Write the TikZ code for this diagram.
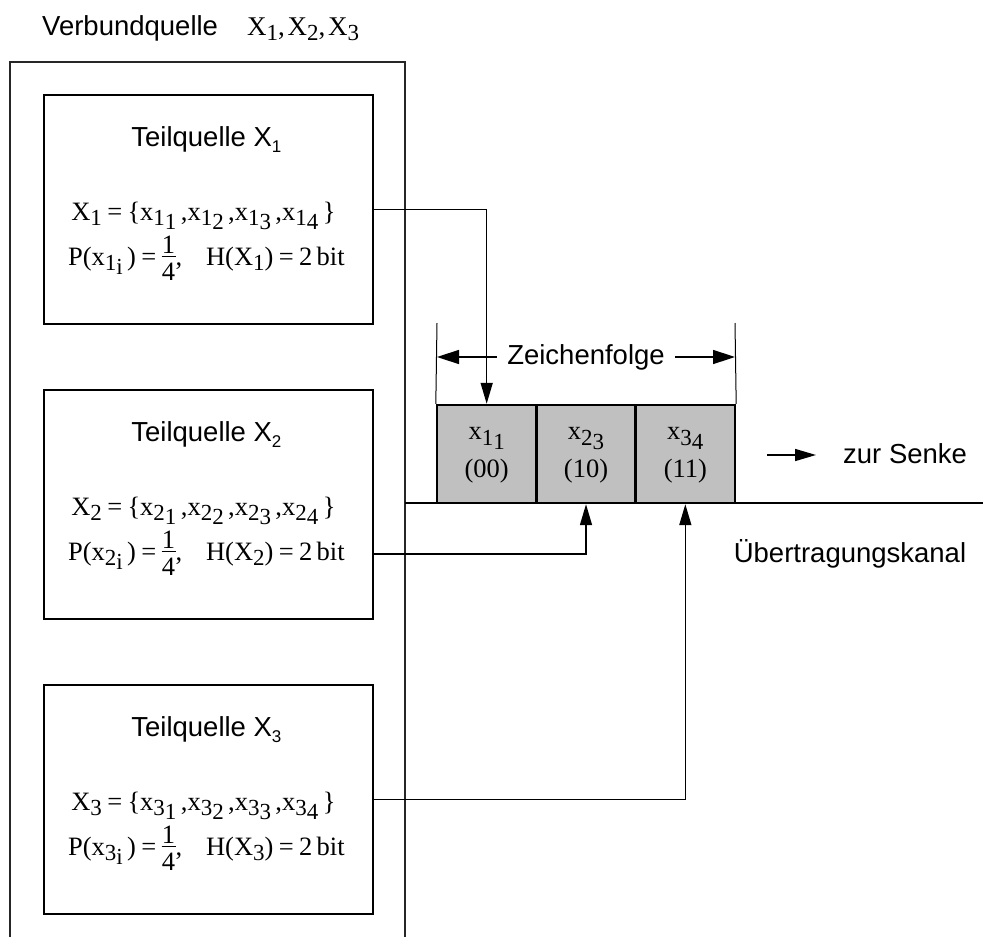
\documentclass[tikz,border=0pt]{standalone}
\usepackage{fontspec}
\setmainfont{Liberation Serif}
\setsansfont{Liberation Sans}
\usetikzlibrary{arrows.meta,calc}

% lowered serif index (nestable), sans index, spaced equals, one quarter
\newcommand\lo[1]{\raisebox{-0.2em}{\fontsize{23}{23}\selectfont #1}}
\newcommand\ssub[1]{\raisebox{-6pt}{\fontsize{17}{17}\selectfont #1}}
\newcommand\eq{\hspace{0.2em}=\hspace{0.2em}}
\newcommand\qrt{\raisebox{-15pt}{\vbox{\offinterlineskip
  \halign{\hfil##\hfil\cr 1\cr\noalign{\kern2pt}\rule{14pt}{1.3pt}\cr
  \noalign{\kern5.5pt}4\cr}}}}

\definecolor{cellgray}{RGB}{192,192,192}

\tikzset{
  box/.style={draw, line width=1.8pt, minimum width=329pt, minimum height=229pt,
              anchor=north west, inner sep=0pt},
  cell/.style={draw, line width=2.4pt, fill=cellgray, minimum width=99.33pt,
               minimum height=98pt, inner sep=0pt},
  conn/.style={line width=1.5pt},
  arr/.style={line width=1.5pt, -{Triangle[length=21pt,width=12pt]}},
  dimarr/.style={line width=1.5pt, -{Triangle[length=22pt,width=14pt]}},
  thinline/.style={line width=1pt},
  outer/.style={line width=1.2pt, draw=black!85},
  sans/.style={font=\sffamily\fontsize{27.5}{30}\selectfont, inner sep=0pt},
  serif/.style={font=\fontsize{26.5}{30}\selectfont, inner sep=0pt, anchor=base},
}

\begin{document}
\begin{tikzpicture}[x=1pt, y=-1pt]
\useasboundingbox (0,0) rectangle (983,937);

% compound source frame (open towards the bottom)
\draw[outer] (10,940) -- (10,62) -- (405,62) -- (405,940);
\node[sans, anchor=base west] (vqt) at (42,35) {Verbundquelle};
\node[serif, anchor=base west, font=\fontsize{27}{30}\selectfont] (vqx) at (247,35)
  {X\lo{1},\hspace{0.1em}X\lo{2},\hspace{0.1em}X\lo{3}};

% partial sources
\node[box] (t1) at (43,94) {};
\node[box] (t2) at (43,389) {};
\node[box] (t3) at (43,684) {};

\node[sans, anchor=base] (t1h) at ($(t1.north)+(-2,52)$) {Teilquelle X\ssub{1}};
\node[serif] (t1a) at ($(t1.north)+(-5,126)$)
  {X\lo{1}\eq\{x\lo{1\lo{1}}\,,x\lo{1\lo{2}}\,,x\lo{1\lo{3}}\,,x\lo{1\lo{4}}\,\}};
\node[serif] (t1b) at ($(t1.north)+(-2,171)$)
  {P(x\lo{1\lo{i}}\,)\eq\qrt,\hspace{0.9em}H(X\lo{1})\eq 2\,bit};

\node[sans, anchor=base] (t2h) at ($(t2.north)+(-2,52)$) {Teilquelle X\ssub{2}};
\node[serif] (t2a) at ($(t2.north)+(-5,126)$)
  {X\lo{2}\eq\{x\lo{2\lo{1}}\,,x\lo{2\lo{2}}\,,x\lo{2\lo{3}}\,,x\lo{2\lo{4}}\,\}};
\node[serif] (t2b) at ($(t2.north)+(-2,171)$)
  {P(x\lo{2\lo{i}}\,)\eq\qrt,\hspace{0.9em}H(X\lo{2})\eq 2\,bit};

\node[sans, anchor=base] (t3h) at ($(t3.north)+(-2,52)$) {Teilquelle X\ssub{3}};
\node[serif] (t3a) at ($(t3.north)+(-5,126)$)
  {X\lo{3}\eq\{x\lo{3\lo{1}}\,,x\lo{3\lo{2}}\,,x\lo{3\lo{3}}\,,x\lo{3\lo{4}}\,\}};
\node[serif] (t3b) at ($(t3.north)+(-2,171)$)
  {P(x\lo{3\lo{i}}\,)\eq\qrt,\hspace{0.9em}H(X\lo{3})\eq 2\,bit};

% transmission channel
\coordinate (ch0) at (405,503);
\coordinate (ch1) at (983,503);
\draw[conn] (ch0) -- (ch1);
\node[sans, anchor=base] (uk) at (850,562) {Übertragungskanal};

% symbol sequence
\node[cell] (c1) at (486.67,454) {};
\node[cell] (c2) at (586,454) {};
\node[cell] (c3) at (685.33,454) {};
\node[serif] (c1a) at ($(c1.north)+(0,36)$) {x\lo{1\lo{1}}};
\node[serif] (c1b) at ($(c1.north)+(0,74)$) {(00)};
\node[serif] (c2a) at ($(c2.north)+(0,36)$) {x\lo{2\lo{3}}};
\node[serif] (c2b) at ($(c2.north)+(0,74)$) {(10)};
\node[serif] (c3a) at ($(c3.north)+(0,36)$) {x\lo{3\lo{4}}};
\node[serif] (c3b) at ($(c3.north)+(0,74)$) {(11)};

% extent of the sequence
\coordinate (e1) at (437,323);
\coordinate (e2) at (735,323);
\draw[thinline] (c1.north west) -- (e1);
\draw[thinline] (c3.north east) -- (e2);
\node[sans, inner xsep=10pt] (zf) at (586,357) {Zeichenfolge};
\draw[dimarr] (zf.west) -- (zf.west -| e1);
\draw[dimarr] (zf.east) -- (zf.east -| e2);

% source outputs into the sequence
\draw[arr] (t1.east) -| (c1.north);
\draw[arr] ([yshift=-49.5pt]t2.east) -| (c2.south);
\draw[arr] (t3.east) -| (c3.south);

% to the sink
\node[sans, anchor=base west] (zs) at (843,463) {zur Senke};
\coordinate (zs0) at (767,455);
\coordinate (zs1) at (816,455);
\draw[arr] (zs0) -- (zs1);
\end{tikzpicture}
\end{document}
